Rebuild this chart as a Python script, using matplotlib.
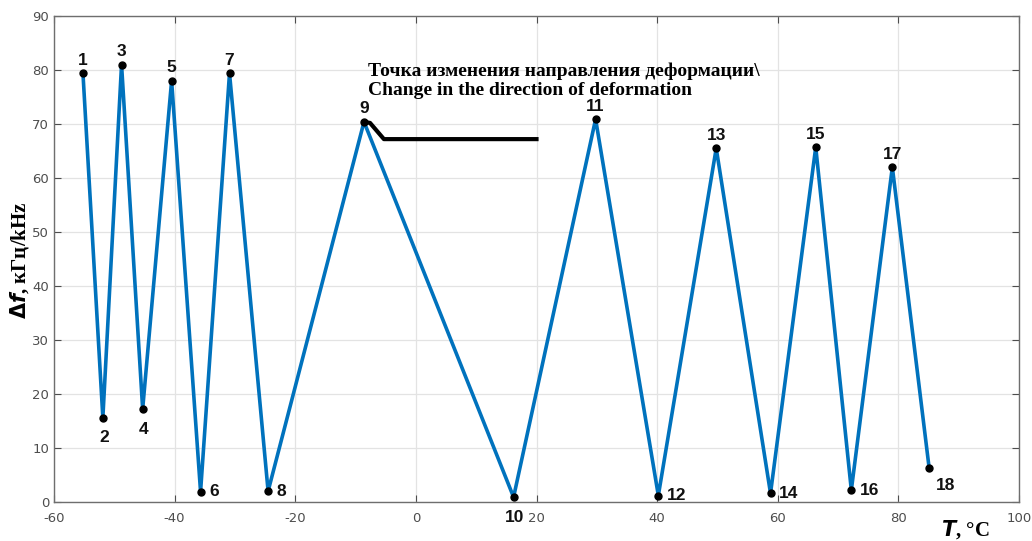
import numpy as np
import matplotlib
matplotlib.use('Agg')
import matplotlib.pyplot as plt

plt.rcParams['axes.unicode_minus'] = False

# temperature (deg C) and frequency shift (kHz) at the turning points
T = [-55.2, -51.9, -48.8, -45.3, -40.5, -35.7, -30.9, -24.5, -8.6,
     16.2, 29.8, 40.2, 49.8, 58.8, 66.3, 72.2, 79.0, 85.1]
df = [79.4, 15.6, 81.0, 17.2, 78.0, 1.9, 79.4, 2.0, 70.4,
      0.9, 70.9, 1.2, 65.5, 1.6, 65.7, 2.2, 62.0, 6.3]
labels = [str(i + 1) for i in range(len(T))]
# where each point number sits relative to its dot
label_pos = ['up', 'down', 'up', 'down', 'up', 'right', 'up', 'right', 'up',
             'down', 'up', 'right', 'up', 'right', 'up', 'right', 'up', 'downright']

# leader line from point 9 to the note
lead_x = [-8.6, -7.6, -5.3, 20.0]
lead_y = [70.4, 70.2, 67.2, 67.2]

blue = '#0072BD'
gray = '#4d4d4d'

fig = plt.figure(figsize=(10.32, 5.41), dpi=100)
ax = fig.add_axes([54/1032, 1 - 502/541, 965/1032, 486/541])

ax.plot(T, df, color=blue, lw=2.6, zorder=3)
ax.plot(T, df, 'o', color='k', ms=5, zorder=4)
ax.plot(lead_x, lead_y, color='k', lw=3, zorder=4)

offs = {'up': (0, 4, 'center', 'bottom'),
        'down': (1, -9, 'center', 'top'),
        'right': (6, 0, 'left', 'center'),
        'downright': (5, -7, 'left', 'top')}
for x, y, s, p in zip(T, df, labels, label_pos):
    dx, dy, ha, va = offs[p]
    ax.annotate(s, (x, y), xytext=(dx, dy), textcoords='offset points',
                ha=ha, va=va, fontsize=12.5, fontweight='bold', color='#111111',
                family='Liberation Sans')

ax.text(-7.9, 81.3, 'Точка изменения направления деформации\\\nChange in the direction of deformation',
        family='Liberation Serif', fontsize=14, fontweight='bold', va='top', ha='left',
        linespacing=1.15)

ax.set_xlim(-60, 100)
ax.set_ylim(0, 90)
ax.set_xticks(np.arange(-60, 101, 20))
ax.set_yticks(np.arange(0, 91, 10))
ax.grid(True, color='#e3e3e3', lw=0.9)
ax.set_axisbelow(True)
ax.tick_params(direction='in', top=True, right=True, length=5, colors=gray,
               labelsize=9.5, labelcolor=gray)
ax.tick_params(axis='x', pad=7)
for sp in ax.spines.values():
    sp.set_color('#6e6e6e')
    sp.set_linewidth(1.0)

fig.text(20/1032, 1 - 260/541, r'$\mathbf{\Delta}\boldsymbol{f}$, кГц/kHz', rotation=90,
         family='Liberation Serif', fontsize=15, fontweight='bold', ha='center', va='center')
fig.text(965/1032, 1 - 530/541, r'$\boldsymbol{T}$, °C', family='Liberation Serif',
         fontsize=15, fontweight='bold', ha='center', va='center')

plt.savefig('out.png', dpi=100)
